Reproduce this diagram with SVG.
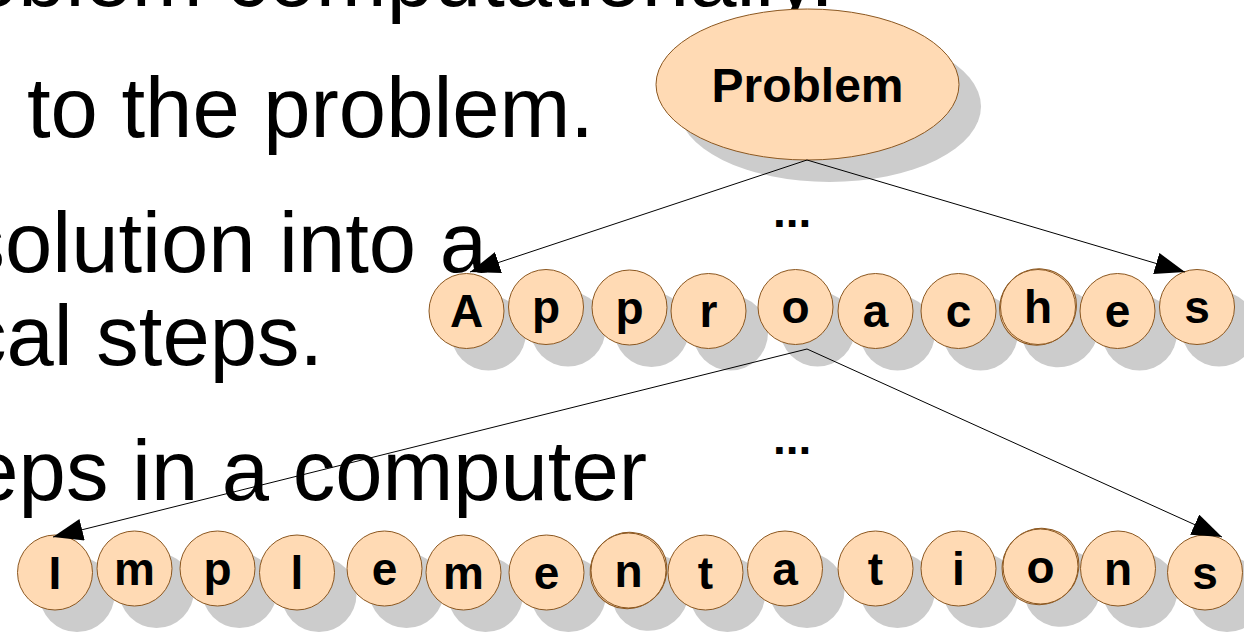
<svg xmlns="http://www.w3.org/2000/svg" width="1244" height="635" viewBox="0 0 1244 635">
<defs>
<style>
.bg{font-family:"Liberation Sans",Arial,sans-serif;font-size:85px;fill:#000}
.sh{fill:#cccccc}
.nd{fill:#ffdab4;stroke:#8b5720;stroke-width:1}
.lt{font-family:"Liberation Sans",Arial,sans-serif;font-weight:bold;font-size:46px;fill:#000;text-anchor:middle}
.pt{font-family:"Liberation Sans",Arial,sans-serif;font-weight:bold;font-size:48px;fill:#000;text-anchor:middle}
.dots{font-family:"Liberation Sans",Arial,sans-serif;font-weight:bold;font-size:46px;fill:#000}
.cn{stroke:#000;stroke-width:1;fill:none;marker-end:url(#ah)}
</style>
<marker id="ah" markerUnits="userSpaceOnUse" markerWidth="30" markerHeight="22" refX="30" refY="11" orient="auto" viewBox="0 0 30 22">
<path d="M0,0 L30,11 L0,22 Z" fill="#000"/>
</marker>
</defs>
<g id="slide-text">
<text class="bg" x="834" y="6" text-anchor="end">oblem computationally.</text>
<text class="bg" x="27" y="137">to the problem.</text>
<text class="bg" x="487" y="272" text-anchor="end">solution into a</text>
<text class="bg" x="-36" y="365">cal steps.</text>
<text class="bg" x="647" y="500" text-anchor="end">eps in a computer</text>
</g>
<g id="shadows">
<ellipse class="sh" cx="829.5" cy="106.5" rx="151.5" ry="75.5"/>
<circle class="sh" cx="488.5" cy="333" r="37.5"/>
<circle class="sh" cx="568" cy="329" r="37.5"/>
<circle class="sh" cx="651.5" cy="329.5" r="37.5"/>
<circle class="sh" cx="730.5" cy="333" r="37.5"/>
<circle class="sh" cx="817.5" cy="329" r="37.5"/>
<circle class="sh" cx="897.5" cy="333" r="37.5"/>
<circle class="sh" cx="980.5" cy="333" r="37.5"/>
<ellipse class="sh" cx="1060" cy="329" rx="39.5" ry="37.5" transform="rotate(-40 1060 329)"/>
<circle class="sh" cx="1139.5" cy="333" r="37.5"/>
<circle class="sh" cx="1219" cy="329" r="37.5"/>
<circle class="sh" cx="77" cy="594.5" r="37.5"/>
<circle class="sh" cx="156.5" cy="590.5" r="37.5"/>
<circle class="sh" cx="239.5" cy="590.5" r="37.5"/>
<circle class="sh" cx="319" cy="594.5" r="37.5"/>
<circle class="sh" cx="406.5" cy="590.5" r="37.5"/>
<circle class="sh" cx="485.5" cy="594.5" r="37.5"/>
<circle class="sh" cx="568.5" cy="594.5" r="37.5"/>
<ellipse class="sh" cx="650.5" cy="592.5" rx="39.5" ry="37.5" transform="rotate(-40 650.5 592.5)"/>
<circle class="sh" cx="727.5" cy="594.5" r="37.5"/>
<circle class="sh" cx="807" cy="590.5" r="37.5"/>
<circle class="sh" cx="897.5" cy="590.5" r="37.5"/>
<circle class="sh" cx="980.5" cy="590.5" r="37.5"/>
<ellipse class="sh" cx="1062.5" cy="588.5" rx="39.5" ry="37.5" transform="rotate(-40 1062.5 588.5)"/>
<circle class="sh" cx="1140" cy="590.5" r="37.5"/>
<circle class="sh" cx="1227" cy="594.5" r="37.5"/>
</g>
<g id="problem">
<ellipse class="nd" cx="807.5" cy="84.5" rx="151.5" ry="75.5"/>
<text class="pt" x="807.5" y="102">Problem</text>
</g>
<g id="approaches">
<g id="a1"><circle class="nd" cx="466.5" cy="311" r="37.5"/><text class="lt" x="466.5" y="327">A</text></g>
<g id="a2"><circle class="nd" cx="546" cy="307" r="37.5"/><text class="lt" x="546" y="323">p</text></g>
<g id="a3"><circle class="nd" cx="629.5" cy="307.5" r="37.5"/><text class="lt" x="629.5" y="323.5">p</text></g>
<g id="a4"><circle class="nd" cx="708.5" cy="311" r="37.5"/><text class="lt" x="708.5" y="327">r</text></g>
<g id="a5"><circle class="nd" cx="795.5" cy="307" r="37.5"/><text class="lt" x="795.5" y="323">o</text></g>
<g id="a6"><circle class="nd" cx="875.5" cy="311" r="37.5"/><text class="lt" x="875.5" y="327">a</text></g>
<g id="a7"><circle class="nd" cx="958.5" cy="311" r="37.5"/><text class="lt" x="958.5" y="327">c</text></g>
<g id="a8"><ellipse class="nd" cx="1038" cy="307" rx="39" ry="37.5" transform="rotate(-40 1038 307)"/><circle class="nd" cx="1038" cy="307" r="37.5"/><text class="lt" x="1038" y="323">h</text></g>
<g id="a9"><circle class="nd" cx="1117.5" cy="311" r="37.5"/><text class="lt" x="1117.5" y="327">e</text></g>
<g id="a10"><circle class="nd" cx="1197" cy="307" r="37.5"/><text class="lt" x="1197" y="323">s</text></g>
</g>
<g id="implementations">
<g id="i1"><circle class="nd" cx="55" cy="572.5" r="37.5"/><text class="lt" x="55" y="588.5">I</text></g>
<g id="i2"><circle class="nd" cx="134.5" cy="568.5" r="37.5"/><text class="lt" x="134.5" y="584.5">m</text></g>
<g id="i3"><circle class="nd" cx="217.5" cy="568.5" r="37.5"/><text class="lt" x="217.5" y="584.5">p</text></g>
<g id="i4"><circle class="nd" cx="297" cy="572.5" r="37.5"/><text class="lt" x="297" y="588.5">l</text></g>
<g id="i5"><circle class="nd" cx="384.5" cy="568.5" r="37.5"/><text class="lt" x="384.5" y="584.5">e</text></g>
<g id="i6"><circle class="nd" cx="463.5" cy="572.5" r="37.5"/><text class="lt" x="463.5" y="588.5">m</text></g>
<g id="i7"><circle class="nd" cx="546.5" cy="572.5" r="37.5"/><text class="lt" x="546.5" y="588.5">e</text></g>
<g id="i8"><ellipse class="nd" cx="628.5" cy="570.5" rx="39" ry="37.5" transform="rotate(-40 628.5 570.5)"/><circle class="nd" cx="628.5" cy="570.5" r="37.5"/><text class="lt" x="628.5" y="586.5">n</text></g>
<g id="i9"><circle class="nd" cx="705.5" cy="572.5" r="37.5"/><text class="lt" x="705.5" y="588.5">t</text></g>
<g id="i10"><circle class="nd" cx="785" cy="568.5" r="37.5"/><text class="lt" x="785" y="584.5">a</text></g>
<g id="i11"><circle class="nd" cx="875.5" cy="568.5" r="37.5"/><text class="lt" x="875.5" y="584.5">t</text></g>
<g id="i12"><circle class="nd" cx="958.5" cy="568.5" r="37.5"/><text class="lt" x="958.5" y="584.5">i</text></g>
<g id="i13"><ellipse class="nd" cx="1040.5" cy="566.5" rx="39" ry="37.5" transform="rotate(-40 1040.5 566.5)"/><circle class="nd" cx="1040.5" cy="566.5" r="37.5"/><text class="lt" x="1040.5" y="582.5">o</text></g>
<g id="i14"><circle class="nd" cx="1118" cy="568.5" r="37.5"/><text class="lt" x="1118" y="584.5">n</text></g>
<g id="i15"><circle class="nd" cx="1205" cy="572.5" r="37.5"/><text class="lt" x="1205" y="588.5">s</text></g>
</g>
<g id="ellipsis">
<text class="dots" x="773" y="227">...</text>
<text class="dots" x="773" y="454">...</text>
</g>
<g id="connectors">
<line class="cn" x1="807" y1="160" x2="470" y2="272"/>
<line class="cn" x1="807" y1="160" x2="1185" y2="272"/>
<line class="cn" x1="807" y1="349" x2="53" y2="537"/>
<line class="cn" x1="807" y1="349" x2="1222" y2="537"/>
</g>
</svg>
